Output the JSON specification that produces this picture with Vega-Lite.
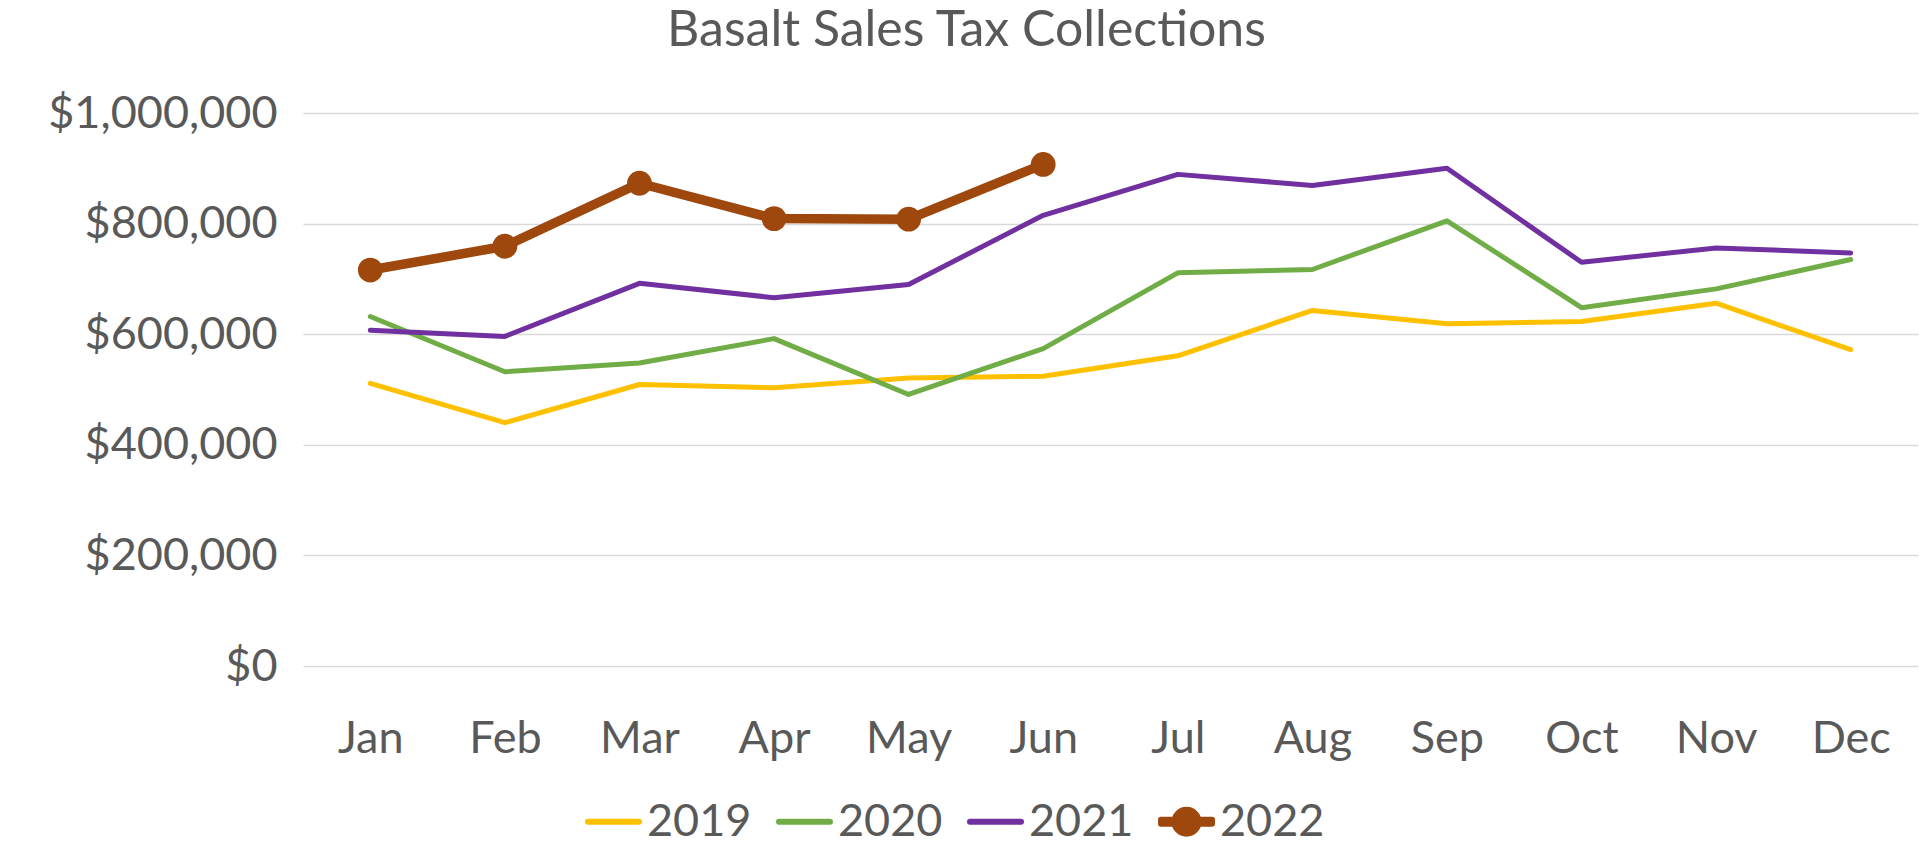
{
  "$schema": "https://vega.github.io/schema/vega-lite/v6.json",
  "width": 1615,
  "height": 553,
  "autosize": {"type": "none"},
  "padding": {"left": 303, "top": 113, "right": 1, "bottom": 180},
  "background": "white",
  "data": {
    "values": [
      {"month": "Jan", "year": "2019", "sales": 511000},
      {"month": "Feb", "year": "2019", "sales": 440000},
      {"month": "Mar", "year": "2019", "sales": 509000},
      {"month": "Apr", "year": "2019", "sales": 503000},
      {"month": "May", "year": "2019", "sales": 521000},
      {"month": "Jun", "year": "2019", "sales": 524000},
      {"month": "Jul", "year": "2019", "sales": 561000},
      {"month": "Aug", "year": "2019", "sales": 643000},
      {"month": "Sep", "year": "2019", "sales": 619000},
      {"month": "Oct", "year": "2019", "sales": 623000},
      {"month": "Nov", "year": "2019", "sales": 656000},
      {"month": "Dec", "year": "2019", "sales": 572000},
      {"month": "Jan", "year": "2020", "sales": 632000},
      {"month": "Feb", "year": "2020", "sales": 532000},
      {"month": "Mar", "year": "2020", "sales": 548000},
      {"month": "Apr", "year": "2020", "sales": 592000},
      {"month": "May", "year": "2020", "sales": 491000},
      {"month": "Jun", "year": "2020", "sales": 574000},
      {"month": "Jul", "year": "2020", "sales": 711000},
      {"month": "Aug", "year": "2020", "sales": 717000},
      {"month": "Sep", "year": "2020", "sales": 805000},
      {"month": "Oct", "year": "2020", "sales": 648000},
      {"month": "Nov", "year": "2020", "sales": 682000},
      {"month": "Dec", "year": "2020", "sales": 735000},
      {"month": "Jan", "year": "2021", "sales": 607000},
      {"month": "Feb", "year": "2021", "sales": 596000},
      {"month": "Mar", "year": "2021", "sales": 692000},
      {"month": "Apr", "year": "2021", "sales": 666000},
      {"month": "May", "year": "2021", "sales": 690000},
      {"month": "Jun", "year": "2021", "sales": 815000},
      {"month": "Jul", "year": "2021", "sales": 889000},
      {"month": "Aug", "year": "2021", "sales": 869000},
      {"month": "Sep", "year": "2021", "sales": 900000},
      {"month": "Oct", "year": "2021", "sales": 730000},
      {"month": "Nov", "year": "2021", "sales": 756000},
      {"month": "Dec", "year": "2021", "sales": 747000},
      {"month": "Jan", "year": "2022", "sales": 716000},
      {"month": "Feb", "year": "2022", "sales": 759000},
      {"month": "Mar", "year": "2022", "sales": 873000},
      {"month": "Apr", "year": "2022", "sales": 809000},
      {"month": "May", "year": "2022", "sales": 808000},
      {"month": "Jun", "year": "2022", "sales": 907000}
    ]
  },
  "encoding": {
    "x": {
      "field": "month",
      "type": "ordinal",
      "sort": ["Jan", "Feb", "Mar", "Apr", "May", "Jun", "Jul", "Aug", "Sep", "Oct", "Nov", "Dec"],
      "scale": {"type": "point", "padding": 0.5},
      "axis": {
        "title": null,
        "labelAngle": 0,
        "domain": false,
        "ticks": false,
        "grid": false,
        "labelFont": "Lato",
        "labelFontSize": 45,
        "labelColor": "#595959",
        "labelBaseline": "alphabetic",
        "labelPadding": 86
      }
    },
    "y": {
      "field": "sales",
      "type": "quantitative",
      "scale": {"domain": [0, 1000000], "nice": false},
      "axis": {
        "title": "Basalt Sales Tax Collections",
        "titleAngle": 0,
        "titleX": 663,
        "titleY": -68,
        "titleAlign": "center",
        "titleBaseline": "alphabetic",
        "titleFont": "Lato",
        "titleFontSize": 50,
        "titleFontWeight": "normal",
        "titleColor": "#595959",
        "values": [0, 200000, 400000, 600000, 800000, 1000000],
        "format": "$,.0f",
        "domain": false,
        "ticks": false,
        "labelFont": "Lato",
        "labelFontSize": 45,
        "labelColor": "#595959",
        "labelPadding": 26,
        "labelLimit": 500,
        "labelFlush": false,
        "labelOverlap": false,
        "gridColor": "#D9D9D9",
        "gridWidth": 1.5
      }
    }
  },
  "layer": [
    {
      "transform": [{"filter": "datum.year != '2022'"}],
      "mark": {"type": "line", "strokeWidth": 5, "strokeCap": "round", "strokeJoin": "round"},
      "encoding": {
        "color": {
          "field": "year",
          "type": "nominal",
          "scale": {
            "domain": ["2019", "2020", "2021", "2022"],
            "range": ["#FFC000", "#70AD47", "#7030A0", "#9E480E"]
          },
          "legend": {
            "title": null,
            "orient": "none",
            "direction": "horizontal",
            "legendX": 282,
            "legendY": 680,
            "padding": 0,
            "labelFont": "Lato",
            "labelFontSize": 45,
            "labelColor": "#595959",
            "labelOffset": 5,
            "symbolType": "stroke",
            "symbolSize": 2601,
            "symbolStrokeWidth": 6,
            "columnPadding": 24,
            "gridAlign": "all",
            "encoding": {
              "symbols": {
                "shape": {
                  "condition": {
                    "test": "datum.value == '2022'",
                    "value": "M-1,-0.08L1,-0.08L1,0.08L-1,0.08Z M0.47,0A0.47,0.47,0,1,1,-0.47,0A0.47,0.47,0,1,1,0.47,0Z"
                  },
                  "value": "stroke"
                },
                "strokeWidth": {"value": 6},
                "fill": {
                  "condition": {"test": "datum.value == '2022'", "value": "#9E480E"},
                  "value": "transparent"
                },
                "strokeCap": {"value": "round"},
                "strokeJoin": {"value": "round"}
              }
            }
          }
        }
      }
    },
    {
      "transform": [{"filter": "datum.year == '2022'"}],
      "mark": {"type": "line", "strokeWidth": 9.5, "strokeCap": "round", "strokeJoin": "round"},
      "encoding": {
        "color": {"field": "year", "type": "nominal", "legend": null}
      }
    },
    {
      "transform": [{"filter": "datum.year == '2022'"}],
      "mark": {"type": "point", "filled": true, "size": 615, "opacity": 1, "color": "#9E480E", "strokeWidth": 0}
    }
  ],
  "config": {"view": {"stroke": null}, "font": "Lato"}
}
